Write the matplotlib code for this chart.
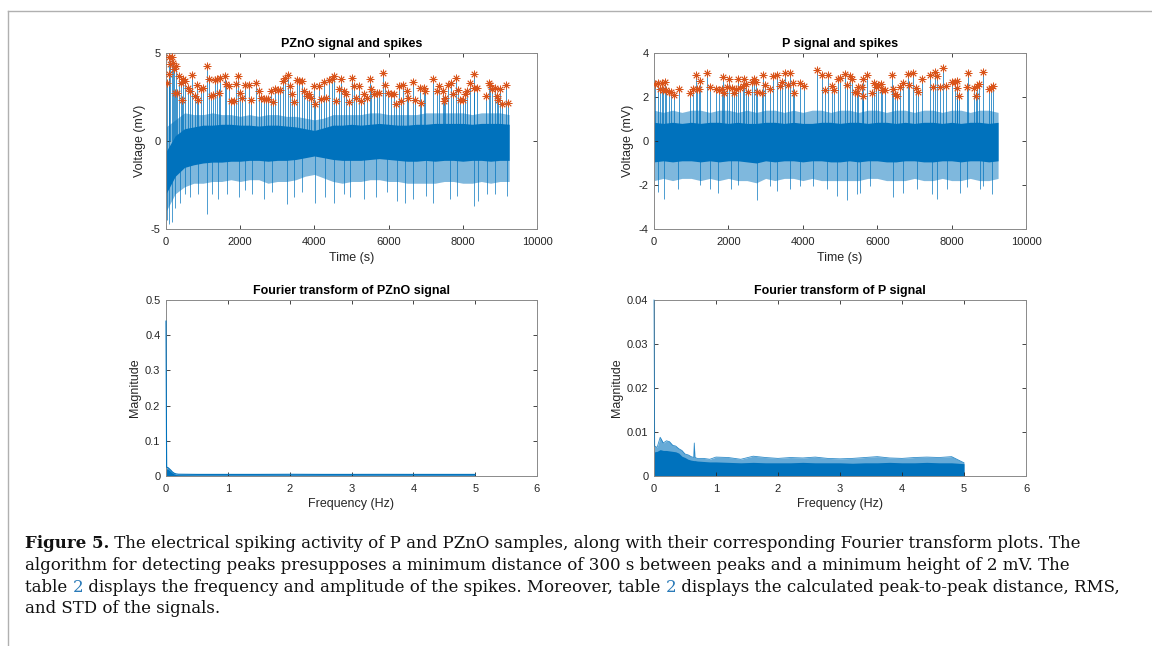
import matplotlib
matplotlib.use("Agg")
import matplotlib.pyplot as plt
from matplotlib.lines import Line2D

BLUE = "#0072BD"
ORANGE = "#D95319"
LINK = "#2a7ab8"

# ---- time-domain envelopes (s, mV) ----
t_env = [0, 250, 500, 750, 1000, 1250, 1500, 1750, 2000, 2250, 2500, 2750,
         3000, 3250, 3500, 3750, 4000, 4250, 4500, 4750, 5000, 5250, 5500,
         5750, 6000, 6250, 6500, 6750, 7000, 7250, 7500, 7750, 8000, 8250,
         8500, 8750, 9000, 9250]

pzno_core_hi = [-0.6, 0.3, 0.7, 0.8, 0.9, 0.9, 0.95, 0.95, 0.9, 0.9, 0.85, 0.9,
                0.9, 0.85, 0.8, 0.7, 0.6, 0.75, 0.9, 0.9, 0.95, 0.9, 0.95,
                1.0, 0.95, 0.9, 0.9, 0.95, 0.95, 1.0, 1.0, 1.0, 1.0, 0.95,
                1.0, 1.0, 1.0, 0.95]
pzno_core_lo = [-3.0, -2.0, -1.5, -1.35, -1.25, -1.2, -1.2, -1.15, -1.15, -1.1,
                -1.1, -1.15, -1.1, -1.1, -1.05, -0.95, -0.85, -0.95, -1.05,
                -1.1, -1.1, -1.1, -1.05, -1.0, -1.05, -1.1, -1.15, -1.15,
                -1.1, -1.15, -1.1, -1.1, -1.15, -1.1, -1.1, -1.15, -1.1, -1.1]
pzno_outer_hi = [0.8, 1.2, 1.6, 1.5, 1.5, 1.6, 1.5, 1.5, 1.4, 1.5, 1.4, 1.5,
                 1.5, 1.4, 1.4, 1.3, 1.2, 1.3, 1.5, 1.5, 1.5, 1.5, 1.6, 1.6,
                 1.5, 1.5, 1.5, 1.5, 1.6, 1.6, 1.6, 1.6, 1.6, 1.5, 1.6, 1.6,
                 1.6, 1.5]
pzno_outer_lo = [-4.0, -3.0, -2.6, -2.4, -2.4, -2.3, -2.3, -2.2, -2.3, -2.2,
                 -2.2, -2.4, -2.3, -2.3, -2.2, -2.0, -1.9, -2.1, -2.3, -2.4,
                 -2.3, -2.3, -2.2, -2.2, -2.3, -2.3, -2.4, -2.4, -2.4, -2.4,
                 -2.3, -2.3, -2.4, -2.4, -2.3, -2.4, -2.3, -2.3]

p_core_hi = [0.85, 0.8, 0.85, 0.8, 0.85, 0.8, 0.85, 0.85, 0.8, 0.85, 0.8, 0.8,
             0.85, 0.85, 0.8, 0.85, 0.8, 0.8, 0.85, 0.85, 0.8, 0.85, 0.85,
             0.8, 0.85, 0.85, 0.8, 0.85, 0.8, 0.85, 0.85, 0.8, 0.85, 0.8,
             0.85, 0.85, 0.8, 0.85]
p_core_lo = [-0.95, -0.9, -0.95, -0.9, -0.9, -0.95, -0.9, -0.95, -0.9, -0.9,
             -0.95, -1.0, -0.9, -0.95, -0.9, -0.9, -0.95, -0.9, -0.9, -0.95,
             -0.95, -0.9, -0.95, -0.9, -0.9, -0.95, -0.95, -0.9, -0.9, -0.95,
             -0.95, -0.9, -0.9, -0.95, -0.9, -0.9, -0.95, -0.9]
p_outer_hi = [1.4, 1.3, 1.4, 1.3, 1.4, 1.4, 1.3, 1.4, 1.4, 1.3, 1.4, 1.3, 1.4,
              1.4, 1.3, 1.4, 1.3, 1.4, 1.4, 1.3, 1.4, 1.4, 1.3, 1.4, 1.4, 1.3,
              1.4, 1.4, 1.3, 1.4, 1.4, 1.3, 1.4, 1.4, 1.3, 1.4, 1.4, 1.3]
p_outer_lo = [-1.8, -1.7, -1.8, -1.7, -1.7, -1.8, -1.7, -1.8, -1.7, -1.8,
              -1.8, -1.9, -1.7, -1.8, -1.7, -1.7, -1.8, -1.7, -1.8, -1.8,
              -1.8, -1.8, -1.8, -1.7, -1.7, -1.8, -1.8, -1.8, -1.7, -1.8,
              -1.8, -1.7, -1.8, -1.8, -1.7, -1.8, -1.8, -1.7]

# ---- detected spikes (s, mV) ----
pzno_peak_t = [36, 81, 153, 108, 198, 261, 90, 225, 288, 245, 351, 396, 423,
               468, 514, 586, 649, 703, 784, 829, 874, 946, 1009, 1117, 1162,
               1216, 1261, 1324, 1387, 1423, 1459, 1577, 1613, 1694, 1757,
               1820, 1874, 1937, 2000, 2054, 2135, 2243, 2288, 2432, 2495,
               2568, 2631, 2694, 2748, 2829, 2883, 2946, 3018, 3081, 3153,
               3207, 3288, 3333, 3396, 3459, 3532, 3595, 3667, 3712, 3802,
               3847, 3919, 3982, 4027, 4117, 4180, 4252, 4315, 4405, 4477,
               4541, 4586, 4658, 4730, 4793, 4865, 4928, 5000, 5063, 5126,
               5198, 5243, 5333, 5423, 5495, 5532, 5604, 5676, 5739, 5847,
               5901, 5982, 6054, 6144, 6207, 6279, 6342, 6396, 6490, 6530,
               6670, 6710, 6850, 6865, 6960, 6990, 7190, 7300, 7370, 7460,
               7520, 7480, 7610, 7675, 7745, 7815, 7880, 7925, 7995, 8060,
               8105, 8200, 8300, 8305, 8390, 8625, 8700, 8735, 8800, 8870,
               8910, 8960, 9000, 9070, 9165, 9230]
pzno_peak_v = [3.3, 4.8, 4.8, 4.35, 4.45, 4.25, 3.8, 4.1, 2.75, 2.7, 3.7, 3.3,
               2.35, 3.5, 3.4, 3.0, 2.85, 3.75, 2.55, 3.2, 2.35, 2.95, 3.0,
               4.25, 3.55, 2.55, 2.6, 3.45, 3.55, 2.75, 3.6, 3.7, 3.25, 3.15,
               2.3, 2.25, 3.25, 3.7, 2.75, 2.45, 3.2, 3.2, 2.35, 3.3, 2.85,
               2.45, 2.4, 2.4, 2.4, 2.85, 2.2, 2.95, 2.9, 2.9, 3.4, 3.6, 3.75,
               3.1, 2.65, 2.2, 3.45, 3.4, 3.4, 2.85, 2.55, 2.65, 2.45, 3.1,
               2.1, 3.1, 2.4, 3.35, 2.45, 3.45, 3.55, 3.7, 2.3, 2.95, 3.5,
               2.85, 2.65, 2.2, 3.6, 3.1, 2.45, 3.1, 2.3, 2.65, 2.45, 3.5,
               2.95, 2.65, 2.75, 2.75, 3.85, 3.2, 2.75, 2.65, 2.65, 2.1, 3.1,
               2.3, 3.2, 2.85, 2.45, 3.35, 2.35, 3.0, 2.15, 3.0, 2.85, 3.55,
               2.85, 3.1, 2.85, 2.45, 2.25, 3.2, 3.3, 2.65, 3.6, 2.9, 2.35,
               2.35, 2.65, 2.85, 3.3, 3.8, 3.0, 3.0, 2.55, 3.3, 3.2, 2.95,
               3.0, 2.55, 2.35, 2.95, 2.1, 3.2, 2.15]

pzno_dip_t = [36, 90, 153, 243, 378, 514, 649, 874, 1117, 1234, 1396, 1640,
              1955, 2135, 2315, 2630, 2855, 3260, 3440, 3667, 4027, 4297,
              4522, 4793, 4973, 5333, 5649, 5964, 6234, 6442, 6667, 7000,
              7206, 7655, 7835, 8302, 8419, 8643, 8868, 9183]
pzno_dip_v = [-4.5, -4.7, -4.6, -3.8, -3.5, -3.0, -3.2, -3.0, -4.15, -3.0,
              -3.3, -3.0, -3.2, -2.8, -3.0, -3.3, -2.9, -3.6, -3.2, -2.9,
              -3.5, -3.2, -3.5, -3.0, -3.2, -3.3, -3.2, -2.9, -3.4, -3.5,
              -3.3, -3.1, -3.5, -3.3, -3.1, -3.7, -3.4, -3.0, -3.0, -3.1]

p_peak_t = [36, 108, 153, 216, 288, 243, 314, 395, 467, 539, 674, 961, 1051,
            1141, 1159, 1249, 1204, 1438, 1518, 1662, 1752, 1815, 1842, 1887,
            1968, 2022, 2084, 2147, 2201, 2264, 2309, 2381, 2417, 2471, 2534,
            2624, 2686, 2731, 2758, 2893, 2920, 2983, 3118, 3208, 3297, 3387,
            3432, 3522, 3594, 3657, 3729, 3774, 3926, 4034, 4375, 4528, 4600,
            4690, 4780, 4843, 4942, 5004, 5121, 5184, 5256, 5319, 5403, 5454,
            5493, 5582, 5609, 5627, 5717, 5851, 5914, 5968, 6030, 6093, 6138,
            6210, 6389, 6416, 6478, 6523, 6613, 6703, 6837, 6864, 6971, 7043,
            7106, 7195, 7419, 7491, 7554, 7616, 7688, 7778, 7849, 8002, 8091,
            8136, 8154, 8199, 8405, 8450, 8602, 8656, 8674, 8746, 8853, 9014,
            9050, 9104]
p_peak_v = [2.6, 2.65, 2.35, 2.65, 2.7, 2.3, 2.3, 2.25, 2.25, 2.1, 2.35, 2.2,
            2.35, 3.0, 2.35, 2.75, 2.35, 3.1, 2.45, 2.35, 2.3, 2.35, 2.9, 2.2,
            2.45, 2.8, 2.4, 2.2, 2.35, 2.8, 2.4, 2.5, 2.8, 2.6, 2.25, 2.7,
            2.8, 2.7, 2.25, 2.2, 3.0, 2.55, 2.35, 2.95, 3.0, 2.5, 2.7, 3.1,
            2.55, 3.1, 2.65, 2.2, 2.65, 2.5, 3.25, 3.0, 2.3, 3.0, 2.5, 2.3,
            2.8, 2.85, 3.05, 2.55, 2.95, 2.8, 2.25, 2.2, 2.45, 2.45, 2.05,
            2.8, 3.0, 2.2, 2.65, 2.45, 2.55, 2.6, 2.3, 2.3, 3.0, 2.35, 2.15,
            2.05, 2.45, 2.65, 3.05, 2.55, 3.1, 2.4, 2.25, 2.8, 3.0, 2.45,
            3.15, 2.95, 2.45, 3.3, 2.5, 2.7, 2.7, 2.4, 2.75, 2.05, 2.45, 3.1,
            2.4, 2.05, 2.5, 2.6, 3.15, 2.35, 2.4, 2.5]

p_dip_t = [108, 260, 647, 1231, 1500, 1725, 2057, 2264, 2758, 3118, 3297,
           3657, 3926, 4286, 4645, 4915, 5184, 5454, 5538, 5806, 6416, 6703,
           7061, 7464, 7599, 7867, 8226, 8405, 8763, 8853, 9077]
p_dip_v = [-2.3, -2.65, -2.2, -2.0, -2.2, -2.35, -2.2, -2.0, -2.7, -2.05,
           -2.25, -2.2, -2.05, -2.05, -2.2, -2.5, -2.7, -2.4, -2.35, -2.05,
           -2.55, -2.35, -2.2, -2.4, -2.65, -2.2, -2.35, -2.1, -2.2, -2.05,
           -2.4]

# ---- spectra (Hz, magnitude) ----
pzno_freq = [0, 0.01, 0.03, 0.05, 0.08, 0.1, 0.13, 0.16, 0.2, 0.5, 1, 1.5, 2,
             2.5, 3, 3.5, 4, 4.5, 5]
pzno_mag_hi = [0.44, 0.025, 0.024, 0.021, 0.016, 0.012, 0.008, 0.006, 0.005,
               0.0045, 0.0045, 0.0045, 0.0048, 0.0045, 0.0045, 0.0046,
               0.0045, 0.0045, 0.0045]
pzno_mag_core = [0.02, 0.02, 0.02, 0.017, 0.012, 0.009, 0.006, 0.004, 0.0035,
                 0.003, 0.003, 0.003, 0.003, 0.003, 0.003, 0.003, 0.003,
                 0.003, 0.003]

p_freq = [0, 0.01, 0.05, 0.1, 0.15, 0.2, 0.25, 0.3, 0.35, 0.4, 0.45, 0.5,
          0.55, 0.6, 0.64, 0.65, 0.66, 0.7, 0.8, 0.9, 1.0, 1.2, 1.4, 1.6, 1.8,
          2.0, 2.2, 2.4, 2.6, 2.8, 3.0, 3.2, 3.4, 3.6, 3.8, 4.0, 4.2, 4.4,
          4.6, 4.8, 5.0]
p_mag_hi = [0.04, 0.0068, 0.0065, 0.0088, 0.0075, 0.008, 0.0078, 0.007,
            0.0068, 0.0062, 0.0058, 0.005, 0.0048, 0.0044, 0.0042, 0.0075,
            0.0042, 0.004, 0.004, 0.0038, 0.0043, 0.0042, 0.0038, 0.0045,
            0.0042, 0.004, 0.0042, 0.0041, 0.0043, 0.004, 0.0039, 0.004,
            0.0042, 0.0044, 0.0041, 0.004, 0.0042, 0.0043, 0.0042, 0.0044,
            0.003]
p_mag_core = [0.005, 0.0055, 0.0056, 0.006, 0.0058, 0.0058, 0.0057, 0.0056,
              0.0055, 0.0052, 0.0045, 0.0042, 0.0038, 0.0036, 0.0035, 0.0035,
              0.0035, 0.0034, 0.0033, 0.0032, 0.0032, 0.0031, 0.003, 0.0031,
              0.003, 0.003, 0.003, 0.0031, 0.003, 0.003, 0.003, 0.0029, 0.003,
              0.003, 0.0031, 0.003, 0.003, 0.0031, 0.003, 0.003, 0.0028]

plt.rcParams["font.family"] = ["Liberation Sans", "DejaVu Sans"]
plt.rcParams["axes.unicode_minus"] = False

W, H = 1152, 646
fig = plt.figure(figsize=(W / 100, H / 100), dpi=100)


def axes_px(left, top, right, bottom):
    """Axes from pixel box of the reference."""
    return fig.add_axes([left / W, 1 - bottom / H, (right - left) / W,
                         (bottom - top) / H])


def style(ax, title, xlabel, ylabel):
    ax.set_title(title, fontsize=9, fontweight="bold", color="#000000", pad=4)
    ax.set_xlabel(xlabel, fontsize=9, color="#262626", labelpad=3)
    ax.set_ylabel(ylabel, fontsize=9, color="#262626", labelpad=3)
    ax.tick_params(direction="in", top=True, right=True, labelsize=8,
                   colors="#262626", length=3, width=0.6)
    ax.tick_params(axis="x", pad=6)
    ax.tick_params(axis="y", pad=4)
    for s in ax.spines.values():
        s.set_color("#8a8a8a")
        s.set_linewidth(0.7)


def signal_panel(ax, core_hi, core_lo, outer_hi, outer_lo, peak_t, peak_v,
                 dip_t, dip_v):
    ax.fill_between(t_env, outer_lo, outer_hi, color=BLUE, alpha=0.5, lw=0)
    ax.vlines(dip_t, dip_v, 0, color=BLUE, lw=0.7, alpha=0.7)
    ax.vlines(peak_t, 0, peak_v, color=BLUE, lw=0.7, alpha=0.75)
    ax.fill_between(t_env, core_lo, core_hi, color=BLUE, lw=0)
    ax.plot(peak_t, peak_v, ls="none", marker=(8, 2, 0), ms=5.5, mec=ORANGE,
            mew=0.6, zorder=5)


ax1 = axes_px(166, 53, 537, 229)
signal_panel(ax1, pzno_core_hi, pzno_core_lo, pzno_outer_hi, pzno_outer_lo,
             pzno_peak_t, pzno_peak_v, pzno_dip_t, pzno_dip_v)
ax1.set_xlim(0, 10000)
ax1.set_ylim(-5, 5)
ax1.set_yticks([-5, 0, 5])
style(ax1, "PZnO signal and spikes", "Time (s)", "Voltage (mV)")

ax2 = axes_px(654, 53, 1026, 229)
signal_panel(ax2, p_core_hi, p_core_lo, p_outer_hi, p_outer_lo,
             p_peak_t, p_peak_v, p_dip_t, p_dip_v)
ax2.set_xlim(0, 10000)
ax2.set_ylim(-4, 4)
ax2.set_yticks([-4, -2, 0, 2, 4])
style(ax2, "P signal and spikes", "Time (s)", "Voltage (mV)")

ax3 = axes_px(166, 300, 537, 476)
ax3.fill_between(pzno_freq, 0, pzno_mag_hi, color=BLUE, alpha=0.6, lw=0)
ax3.fill_between(pzno_freq, 0, pzno_mag_core, color=BLUE, lw=0)
ax3.plot(pzno_freq, pzno_mag_hi, color=BLUE, lw=0.8, zorder=3, clip_on=False)
ax3.set_xlim(0, 6)
ax3.set_ylim(0, 0.5)
ax3.set_yticks([0, 0.1, 0.2, 0.3, 0.4, 0.5])
ax3.set_yticklabels(["0", "0.1", "0.2", "0.3", "0.4", "0.5"])
style(ax3, "Fourier transform of PZnO signal", "Frequency (Hz)", "Magnitude")

ax4 = axes_px(654, 300, 1026, 476)
ax4.fill_between(p_freq, 0, p_mag_hi, color=BLUE, alpha=0.6, lw=0)
ax4.fill_between(p_freq, 0, p_mag_core, color=BLUE, lw=0)
ax4.plot(p_freq, p_mag_hi, color=BLUE, lw=0.6, alpha=0.8, zorder=3,
         clip_on=False)
ax4.set_xlim(0, 6)
ax4.set_ylim(0, 0.04)
ax4.set_yticks([0, 0.01, 0.02, 0.03, 0.04])
ax4.set_yticklabels(["0", "0.01", "0.02", "0.03", "0.04"])
style(ax4, "Fourier transform of P signal", "Frequency (Hz)", "Magnitude")

# page frame lines
fig.add_artist(Line2D([8 / W, 1], [1 - 11 / H, 1 - 11 / H],
                      transform=fig.transFigure, color="#b0b0b0", lw=1))
fig.add_artist(Line2D([8 / W, 8 / W], [1 - 11 / H, 0],
                      transform=fig.transFigure, color="#b0b0b0", lw=1))

# caption, drawn piece by piece so the table links can be coloured
caption = [
    [("Figure 5.", "bold", "#111111"),
     (" The electrical spiking activity of P and PZnO samples, along with "
      "their corresponding Fourier transform plots. The", "normal", "#111111")],
    [("algorithm for detecting peaks presupposes a minimum distance of 300 s "
      "between peaks and a minimum height of 2 mV. The", "normal", "#111111")],
    [("table ", "normal", "#111111"), ("2", "normal", LINK),
     (" displays the frequency and amplitude of the spikes. Moreover, table ",
      "normal", "#111111"), ("2", "normal", LINK),
     (" displays the calculated peak-to-peak distance, RMS,", "normal",
      "#111111")],
    [("and STD of the signals.", "normal", "#111111")],
]
SERIF = ["DejaVu Serif"]
renderer = fig.canvas.get_renderer()

# size the caption so its first line spans about the reference's width
probe_w = 0
for text, weight, _ in caption[0]:
    probe = fig.text(0, 0, text, fontsize=12, fontweight=weight, family=SERIF)
    probe_w += probe.get_window_extent(renderer).width
    probe.remove()
cap_size = 12 * 1055 / probe_w

baselines = [548, 570, 592, 613]
for parts, yb in zip(caption, baselines):
    x = 25
    for text, weight, color in parts:
        t = fig.text(x / W, 1 - yb / H, text, fontsize=cap_size,
                     fontweight=weight, color=color, va="baseline",
                     ha="left", family=SERIF)
        x += t.get_window_extent(renderer).width

fig.savefig("out.png", dpi=100)
